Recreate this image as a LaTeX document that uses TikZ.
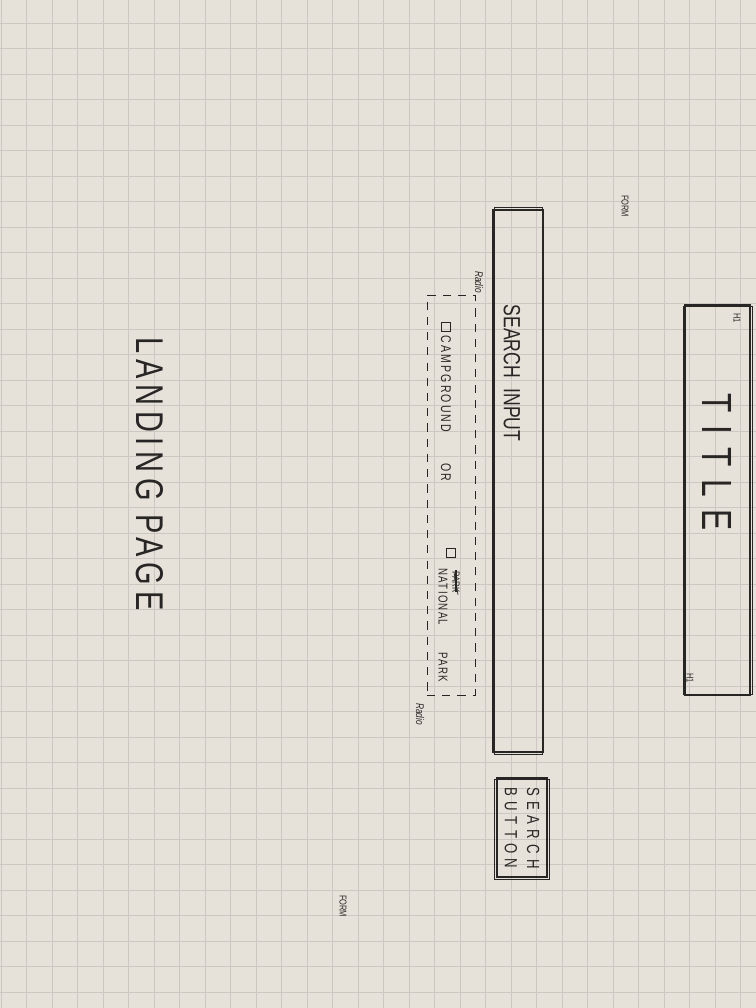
\documentclass[tikz,border=0pt]{standalone}
\usepackage{fontspec}
\setmainfont{Liberation Sans}
\newfontfamily\hand[FakeStretch=0.75]{Liberation Sans}
\usepackage{tikz}
\usetikzlibrary{calc}

\definecolor{paper}{RGB}{230,226,217}
\definecolor{gridline}{RGB}{204,200,193}
\definecolor{pen}{RGB}{40,38,36}

\begin{document}
\begin{tikzpicture}[
    x=0.03cm, y=-0.03cm,
    sketchbox/.style={rectangle, draw=pen, line width=0.9pt, inner sep=0pt},
    sketchline/.style={draw=pen, line width=0.45pt},
    radiobox/.style={rectangle, draw=pen, dash pattern=on 7pt off 6pt, line width=0.6pt, inner sep=0pt},
    checkbox/.style={rectangle, draw=pen, line width=0.8pt, minimum size=0.27cm, inner sep=0pt},
    handtext/.style={text=pen, rotate=-90, inner sep=0pt},
    note/.style={handtext, font=\hand\fontsize{8.5}{10}\selectfont}
]
    % Paper and grid
    \fill[paper] (0,0) rectangle (756,1008);
    \useasboundingbox (0,0) rectangle (756,1008);
    \foreach \gx in {1,26.5,...,756}
        \draw[gridline, line width=0.5pt] (\gx,0) -- (\gx,1008);
    \foreach \gy in {-2.5,23,...,1008}
        \draw[gridline, line width=0.5pt] (0,\gy) -- (756,\gy);

    % Title (H1)
    \node[sketchbox, minimum width=1.95cm, minimum height=11.7cm] (title) at (717.5,500) {};
    \draw[sketchline] ($(title.north west)+(-1,2)$) rectangle ($(title.south east)+(2,-1)$);
    \node[handtext, font=\hand\fontsize{36}{40}\selectfont\addfontfeature{LetterSpace=30}] (titletext) at (717,462) {TITLE};
    \node[note] (hone) at (737,318) {H1};
    \node[note] (htwo) at (690,678) {H1};

    % Form labels
    \node[note] (formtop) at (625,206) {FORM};
    \node[note] (formbot) at (343,906) {FORM};

    % Search input
    \node[sketchbox, minimum width=1.5cm, minimum height=16.26cm] (search) at (518,481) {};
    \draw[sketchline] ($(search.north west)+(2,-2)$) rectangle ($(search.south east)+(-1,2)$);
    \node[handtext, font=\hand\fontsize{20}{24}\selectfont] (searchtext) at (512,373) {SEARCH\hspace{0.45em}INPUT};

    % Radio group
    \node[radiobox, minimum width=1.44cm, minimum height=12cm] (radio) at (451,495) {};
    \node[note, font=\hand\itshape\fontsize{9.5}{11}\selectfont] (radiotop) at (479,282) {Radio};
    \node[note, font=\hand\itshape\fontsize{9.5}{11}\selectfont] (radiobot) at (420,714) {Radio};

    \node[checkbox] (checkcamp) at (446,327) {};
    \node[handtext, font=\hand\fontsize{12}{14}\selectfont\addfontfeature{LetterSpace=15}] (camp) at (446,384) {CAMPGROUND};
    \node[handtext, font=\hand\fontsize{12}{14}\selectfont\addfontfeature{LetterSpace=15}] (ortext) at (446,472) {OR};
    \node[checkbox] (checkpark) at (451,553) {};
    \node[handtext, font=\hand\fontsize{9}{11}\selectfont] (parkstruck) at (456,582) {PARK};
    \draw[pen, line width=0.9pt] ($(parkstruck.west)+(0,-1)$) -- ($(parkstruck.east)+(0,-1)$);
    \draw[pen, line width=0.6pt] ($(parkstruck.west)+(-2,1)$) -- ($(parkstruck.east)+(2,2)$);
    \node[handtext, font=\hand\fontsize{11}{13}\selectfont\addfontfeature{LetterSpace=10}] (national) at (443,597) {NATIONAL};
    \node[handtext, font=\hand\fontsize{11}{13}\selectfont\addfontfeature{LetterSpace=10}] (parktext) at (443,667) {PARK};

    % Search button
    \node[sketchbox, minimum width=1.5cm, minimum height=2.97cm] (button) at (522,827.5) {};
    \draw[sketchline] ($(button.north west)+(-2,2)$) rectangle ($(button.south east)+(2,2)$);
    \draw[pen, line width=1.2pt] ($(button.south west)+(1,-1)$) -- ($(button.south east)+(0,-1)$);
    \node[handtext, align=center, font=\hand\fontsize{15}{19}\selectfont\addfontfeature{LetterSpace=30}] (buttontext) at (522,828) {SEARCH\\BUTTON};

    % Page name
    \node[handtext, font=\hand\fontsize{33}{38}\selectfont\addfontfeature{LetterSpace=15}] (pagename) at (150,474) {LANDING PAGE};
\end{tikzpicture}
\end{document}
